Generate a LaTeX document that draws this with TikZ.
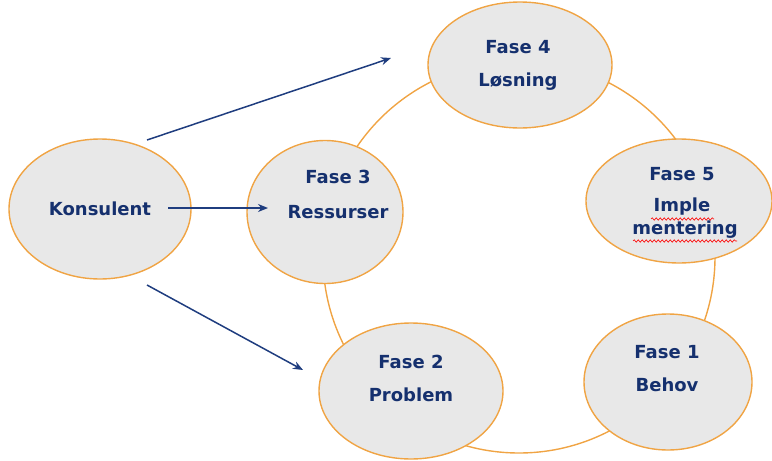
\documentclass[tikz,border=0pt]{standalone}
\usepackage{fontspec}
\setmainfont{DejaVu Sans}
\usetikzlibrary{arrows.meta,decorations.pathmorphing,shapes.geometric}
\definecolor{fillg}{HTML}{E8E8E8}
\definecolor{orng}{HTML}{F0A444}
\definecolor{navy}{HTML}{15306E}
\definecolor{arrc}{HTML}{1F3D7F}
\begin{document}
\begin{tikzpicture}[x=1pt,y=-1pt,
  bub/.style={ellipse,draw=orng,fill=fillg,line width=1.4pt,inner sep=0pt},
  txt/.style={text=navy,font=\fontsize{18}{20}\selectfont\bfseries,inner sep=0pt},
  arr/.style={draw=arrc,line width=1.5pt,-{Stealth[length=10pt,width=8pt]}},
  squig/.style={draw=red,line width=0.6pt,decorate,decoration={snake,amplitude=1.2pt,segment length=4pt}}]
\useasboundingbox (0,0) rectangle (772,461);
% big ring
\node[draw=orng,line width=1.4pt,circle,minimum size=392pt,inner sep=0pt] (ring) at (519,257) {};
% bubbles
\node[bub,minimum width=182pt,minimum height=140pt] (kons) at (100,209) {};
\node[bub,minimum width=156pt,minimum height=143pt] (f3) at (325,212) {};
\node[bub,minimum width=184pt,minimum height=126pt] (f4) at (520,65) {};
\node[bub,minimum width=186pt,minimum height=124pt] (f5) at (679,201) {};
\node[bub,minimum width=168pt,minimum height=136pt] (f1) at (668,382) {};
\node[bub,minimum width=184pt,minimum height=136pt] (f2) at (411,391) {};
% texts
\node[txt] (tk) at (100,209) {Konsulent};
\node[txt] (t3a) at (338,177) {Fase 3};
\node[txt] (t3b) at (338,212) {Ressurser};
\node[txt] (t4a) at (518,47) {Fase 4};
\node[txt] (t4b) at (518,82) {Løsning};
\node[txt] (t5a) at (682,174) {Fase 5};
\node[txt] (t5b) at (682,207) {Imple};
\node[txt] (t5c) at (685,230) {mentering};
\node[txt] (t1a) at (667,352) {Fase 1};
\node[txt] (t1b) at (667,385) {Behov};
\node[txt] (t2a) at (411,362) {Fase 2};
\node[txt] (t2b) at (411,395) {Problem};
% spell-check squiggles
\coordinate (s1a) at (651,219); \coordinate (s1b) at (714,219);
\coordinate (s2a) at (633,241); \coordinate (s2b) at (737,241);
\draw[squig] (s1a) -- (s1b);
\draw[squig] (s2a) -- (s2b);
% arrows
\coordinate (a1s) at (147,140); \coordinate (a1e) at (391,58);
\coordinate (a2s) at (168,208); \coordinate (a2e) at (268,208);
\coordinate (a3s) at (147,285); \coordinate (a3e) at (303,370);
\draw[arr] (a1s) -- (a1e);
\draw[arr] (a2s) -- (a2e);
\draw[arr] (a3s) -- (a3e);
\end{tikzpicture}
\end{document}
